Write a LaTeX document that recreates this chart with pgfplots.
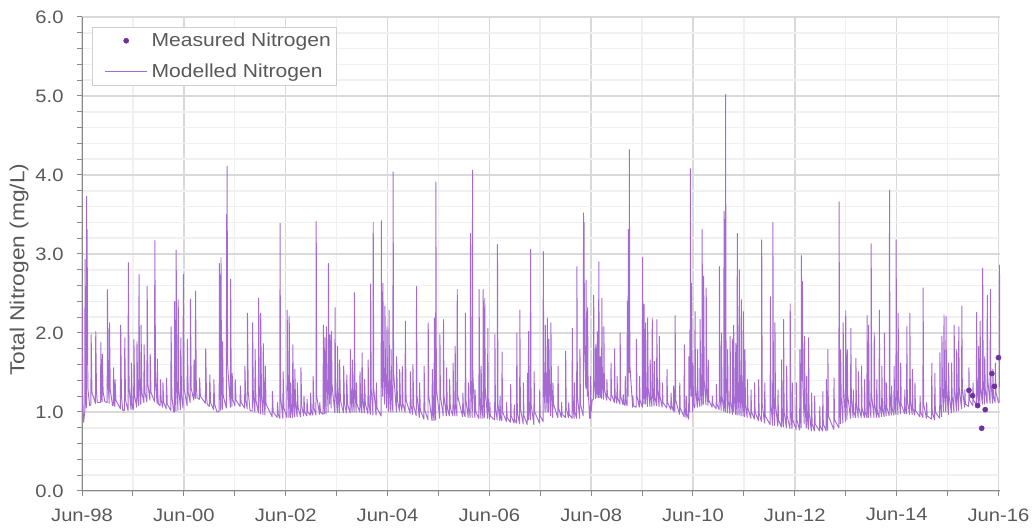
\documentclass[border=0pt]{standalone}
\usepackage{fontspec}
\setmainfont{Liberation Sans}[FakeStretch=1.12]
\usepackage{pgfplots}
\pgfplotsset{compat=1.18}
\definecolor{modl}{HTML}{A66BD3}
\definecolor{meas}{HTML}{7030A0}
\definecolor{majgrid}{HTML}{D9D9D9}
\definecolor{mingrid}{HTML}{F0F0F0}
\definecolor{axgray}{HTML}{898989}
\definecolor{txtgray}{HTML}{595959}
\definecolor{leggray}{HTML}{D0D0D0}
\begin{document}
\begin{tikzpicture}
\useasboundingbox (0,0) rectangle (1036pt,532pt);
\begin{axis}[
  at={(82pt,41pt)}, anchor=south west,
  scale only axis, width=918pt, height=474pt,
  xmin=0, xmax=18.03, ymin=0, ymax=6,
  axis x line*=bottom, axis y line*=left,
  axis line style={-, draw=axgray, line width=1pt},
  xtick={0,2,...,18},
  xticklabels={Jun-98,Jun-00,Jun-02,Jun-04,Jun-06,Jun-08,Jun-10,Jun-12,Jun-14,Jun-16},
  minor xtick={1,3,...,17},
  ytick={0,1,...,6},
  minor ytick={0.2,0.4,0.6,0.8,1.2,1.4,1.6,1.8,2.2,2.4,2.6,2.8,3.2,3.4,3.6,3.8,4.2,4.4,4.6,4.8,5.2,5.4,5.6,5.8},
  yticklabel style={/pgf/number format/fixed, /pgf/number format/fixed zerofill, /pgf/number format/precision=1},
  /pgf/number format/assume math mode=true,
  tick align=outside, major tick length=5pt, minor tick length=5pt,
  every tick/.style={draw=axgray, line width=1pt},
  grid=both,
  major grid style={draw=majgrid, line width=1.5pt},
  minor grid style={draw=mingrid, line width=1.5pt},
  tick label style={font=\fontsize{18}{20}\selectfont, text=txtgray},
  xticklabel style={yshift=-9pt},
  yticklabel style={xshift=-10pt},
  ylabel={Total Nitrogen (mg/L)},
  every axis y label/.style={at={(axis description cs:-0.0686,0.467)}, rotate=90, anchor=center,
    font=\fontsize{20.3}{22}\selectfont, text=txtgray},
  reverse legend,
  legend cell align=left,
  legend style={at={(axis description cs:0,1)}, anchor=north west, xshift=10pt, yshift=-10pt,
    draw=leggray, fill=white, font=\fontsize{18.8}{21}\selectfont, text=txtgray,
    inner xsep=5pt, inner ysep=6pt, row sep=16pt,
    nodes={inner xsep=0pt, inner ysep=0pt},
    /tikz/every odd column/.append style={column sep=4pt}},
]
\addplot[color=modl, line width=0.95pt, line join=round,
  legend image code/.code={\path[draw=none,fill=none] (0pt,0pt) rectangle (50pt,0pt); \draw[draw=modl, line width=1pt] (8pt,0pt) -- (50pt,0pt);}]
coordinates {
(0.000,1.00)(0.005,2.32)(0.015,1.2)(0.03,0.87)
(0.055,1.0)(0.06,2.93)(0.07,1.3)(0.085,1.05)(0.09,3.73)(0.097,1.6)(0.1,3.31)(0.115,1.3)
(0.15,1.08)(0.174,1.09)(0.18,1.98)(0.195,1.25)(0.264,1.11)(0.27,2.02)(0.285,1.25)(0.30,1.12)
(0.364,1.12)(0.37,1.88)(0.38,1.3)(0.394,1.13)(0.40,1.73)(0.415,1.25)(0.45,1.13)
(0.494,1.12)(0.5,2.55)(0.515,1.35)(0.534,1.11)(0.54,2.13)(0.555,1.28)(0.60,1.08)
(0.614,1.08)(0.62,1.56)(0.628,1.2)(0.644,1.07)(0.65,1.41)(0.665,1.15)(0.754,1.04)(0.76,2.10)(0.775,1.2)(0.80,1.02)
(0.834,1.02)(0.84,1.94)(0.855,1.15)(0.904,1.02)(0.91,2.89)(0.925,1.3)(0.964,1.03)(0.97,1.62)(0.985,1.12)(1.00,1.03)
(1.014,1.04)(1.02,1.92)(1.035,1.2)(1.074,1.06)(1.08,1.89)(1.095,1.2)(1.114,1.08)(1.12,2.74)(1.13,1.4)(1.15,1.10)
(1.155,1.10)(1.16,2.10)(1.175,1.25)(1.214,1.12)(1.22,1.85)(1.235,1.25)(1.274,1.13)(1.28,2.59)(1.295,1.35)
(1.334,1.15)(1.34,1.73)(1.355,1.25)(1.424,1.13)(1.43,3.17)(1.445,1.4)(1.474,1.11)(1.48,1.67)(1.49,1.2)(1.50,1.10)
(1.534,1.08)(1.54,1.41)(1.555,1.15)(1.584,1.06)(1.59,1.37)(1.605,1.12)(1.654,1.04)(1.66,1.43)(1.675,1.1)
(1.744,1.02)(1.75,2.08)(1.765,1.2)(1.80,1.00)(1.814,1.00)(1.82,2.40)(1.83,1.3)(1.845,1.01)(1.85,3.05)(1.86,1.4)
(1.885,1.02)(1.89,2.42)(1.90,1.3)(1.934,1.03)(1.94,1.94)(1.955,1.2)(1.984,1.05)(1.99,2.74)(2.005,1.3)
(2.064,1.08)(2.07,1.92)(2.085,1.25)(2.124,1.12)(2.13,2.43)(2.145,1.3)(2.194,1.15)(2.20,1.66)(2.21,1.25)
(2.225,1.17)(2.23,2.53)(2.245,1.35)(2.26,1.18)(2.304,1.16)(2.31,1.43)(2.325,1.2)(2.424,1.11)(2.43,1.80)(2.445,1.2)(2.46,1.10)
(2.504,1.07)(2.51,1.47)(2.525,1.12)(2.584,1.03)(2.59,1.41)(2.605,1.1)(2.65,1.00)
(2.694,1.01)(2.70,2.88)(2.71,1.4)(2.725,1.02)(2.73,2.95)(2.74,1.5)(2.755,1.03)(2.76,1.89)(2.775,1.2)
(2.835,1.05)(2.84,3.50)(2.845,1.8)(2.85,4.11)(2.86,1.6)(2.915,1.06)(2.92,2.68)(2.93,1.4)(2.945,1.07)(2.95,1.49)(2.965,1.15)
(3.004,1.08)(3.01,1.41)(3.025,1.15)(3.104,1.07)(3.11,1.33)(3.125,1.12)(3.194,1.05)(3.20,1.58)(3.215,1.15)
(3.245,1.04)(3.25,2.25)(3.265,1.25)(3.30,1.02)(3.344,1.01)(3.35,2.13)(3.365,1.2)(3.394,1.00)(3.40,1.79)(3.415,1.15)
(3.464,0.99)(3.47,2.44)(3.48,1.35)(3.505,0.98)(3.51,2.25)(3.525,1.2)(3.554,0.97)(3.56,1.87)(3.575,1.15)
(3.594,0.96)(3.60,1.58)(3.615,1.1)(3.734,0.94)(3.74,1.26)(3.755,1.0)(3.834,0.93)(3.84,1.12)(3.855,0.97)
(3.885,0.92)(3.89,3.39)(3.90,1.2)(3.944,0.92)(3.95,1.51)(3.965,1.05)(4.024,0.93)(4.03,2.29)(4.04,1.5)
(4.065,0.93)(4.07,2.21)(4.08,1.3)(4.095,0.93)(4.10,1.37)(4.11,1.1)(4.135,0.93)(4.14,1.85)(4.155,1.15)
(4.175,0.94)(4.18,1.54)(4.195,1.1)(4.225,0.94)(4.23,1.37)(4.245,1.05)(4.295,0.94)(4.30,1.56)(4.315,1.08)
(4.355,0.95)(4.36,1.20)(4.375,1.0)(4.415,0.95)(4.42,1.16)(4.435,1.0)(4.485,0.96)(4.49,1.24)(4.505,1.0)
(4.535,0.96)(4.54,1.45)(4.555,1.05)(4.595,0.96)(4.60,3.41)(4.61,1.2)(4.665,0.97)(4.67,1.12)(4.685,1.0)
(4.735,0.97)(4.74,2.10)(4.75,1.3)(4.765,0.98)(4.77,1.94)(4.78,1.4)(4.795,0.98)(4.80,2.08)(4.81,1.45)
(4.835,1.0)(4.84,2.88)(4.85,1.5)(4.865,1.1)(4.87,1.98)(4.88,1.4)(4.895,1.05)(4.90,2.02)(4.91,1.35)
(4.965,0.99)(4.97,2.32)(4.98,1.3)(5.015,0.99)(5.02,1.83)(5.03,1.2)(5.055,0.99)(5.06,1.66)(5.075,1.15)
(5.135,0.99)(5.14,1.58)(5.155,1.1)(5.195,0.99)(5.20,1.47)(5.215,1.1)(5.265,0.99)(5.27,1.79)(5.28,1.2)
(5.305,1.0)(5.31,1.66)(5.32,1.2)(5.345,1.0)(5.35,2.51)(5.36,1.3)(5.385,1.0)(5.39,1.37)(5.40,1.1)
(5.455,1.0)(5.46,1.51)(5.475,1.1)(5.495,0.99)(5.50,1.75)(5.515,1.15)(5.545,0.99)(5.55,1.41)(5.565,1.1)
(5.615,0.98)(5.62,1.66)(5.635,1.1)(5.665,0.97)(5.67,2.62)(5.68,1.3)(5.715,0.96)(5.72,3.40)(5.73,1.3)
(5.775,0.96)(5.78,1.37)(5.795,1.05)(5.875,0.95)(5.88,3.42)(5.885,1.8)(5.905,1.2)(5.91,2.63)(5.92,1.6)
(5.945,1.1)(5.95,2.34)(5.96,1.5)(5.985,1.05)(5.99,2.08)(6.00,1.4)(6.025,1.0)(6.03,2.29)(6.04,1.4)
(6.065,1.0)(6.07,1.79)(6.08,1.3)(6.105,1.0)(6.11,4.04)(6.12,1.5)(6.175,1.0)(6.18,1.70)(6.195,1.15)
(6.235,1.01)(6.24,1.54)(6.255,1.1)(6.285,1.01)(6.29,1.58)(6.305,1.1)(6.345,1.0)(6.35,2.15)(6.365,1.15)
(6.445,0.98)(6.45,1.51)(6.465,1.08)(6.495,0.97)(6.50,1.60)(6.515,1.08)(6.565,0.95)(6.57,2.59)(6.58,1.2)
(6.625,0.93)(6.63,1.37)(6.645,1.02)(6.715,0.91)(6.72,1.58)(6.735,1.02)(6.795,0.90)(6.80,2.13)(6.81,1.2)
(6.875,0.89)(6.88,1.54)(6.895,1.0)(6.915,0.89)(6.92,2.19)(6.93,1.3)(6.945,0.9)(6.95,3.91)(6.96,1.3)
(7.025,0.92)(7.03,1.98)(7.04,1.2)(7.095,0.95)(7.10,2.17)(7.11,1.2)(7.155,0.95)(7.16,1.56)(7.175,1.05)
(7.215,0.95)(7.22,1.41)(7.235,1.05)(7.285,0.95)(7.29,1.62)(7.30,1.1)(7.325,0.95)(7.33,1.83)(7.34,1.1)
(7.365,0.95)(7.37,2.55)(7.38,1.2)(7.475,0.94)(7.48,1.24)(7.495,1.0)(7.525,0.94)(7.53,2.25)(7.54,1.15)
(7.585,0.93)(7.59,1.37)(7.60,1.05)(7.625,0.93)(7.63,3.26)(7.64,1.4)(7.665,0.93)(7.67,4.06)(7.675,1.5)
(7.715,0.93)(7.72,1.28)(7.735,1.0)(7.795,0.92)(7.80,2.55)(7.81,1.2)(7.835,0.92)(7.84,1.58)(7.85,1.1)
(7.875,0.92)(7.88,2.55)(7.89,1.3)(7.905,0.93)(7.91,2.44)(7.92,1.3)(7.965,0.92)(7.97,2.06)(7.98,1.1)
(8.005,0.91)(8.01,1.12)(8.02,0.95)(8.105,0.90)(8.11,1.98)(8.12,1.05)(8.155,0.90)(8.16,3.12)(8.17,1.1)
(8.205,0.89)(8.21,1.20)(8.22,0.95)(8.245,0.89)(8.25,1.76)(8.26,1.0)(8.335,0.88)(8.34,1.12)(8.35,0.93)
(8.415,0.87)(8.42,1.35)(8.43,0.95)(8.485,0.86)(8.49,1.09)(8.50,0.9)(8.535,0.86)(8.54,2.00)(8.55,1.0)
(8.595,0.85)(8.60,2.29)(8.61,1.05)(8.665,0.85)(8.67,1.37)(8.68,0.95)(8.745,0.84)(8.75,1.49)(8.76,1.0)
(8.765,0.9)(8.77,2.02)(8.78,1.1)(8.805,0.9)(8.81,3.06)(8.82,1.1)(8.875,0.84)(8.88,1.51)(8.89,1.0)
(8.985,0.86)(8.99,1.28)(9.00,0.95)(9.055,0.88)(9.06,3.03)(9.07,1.4)(9.095,1.0)(9.10,2.10)(9.11,1.4)
(9.135,1.0)(9.14,2.19)(9.15,1.5)(9.165,1.0)(9.17,1.92)(9.18,1.4)(9.205,0.95)(9.21,2.13)(9.22,1.3)
(9.245,0.93)(9.25,1.37)(9.26,1.1)(9.345,0.93)(9.35,1.58)(9.36,1.05)(9.415,0.93)(9.42,1.12)(9.43,0.97)
(9.495,0.93)(9.50,1.77)(9.51,1.05)(9.555,0.93)(9.56,1.12)(9.57,0.97)(9.625,0.92)(9.63,2.06)(9.64,1.1)
(9.665,0.92)(9.67,1.37)(9.68,1.0)(9.715,0.92)(9.72,2.84)(9.73,1.2)(9.775,0.92)(9.78,1.79)(9.79,1.1)
(9.845,0.95)(9.85,3.52)(9.855,2.0)(9.86,3.40)(9.87,1.8)(9.895,1.3)(9.90,2.67)(9.91,1.7)(9.925,1.2)(9.93,2.32)(9.94,1.3)
(9.97,0.92)(9.985,0.92)(9.99,1.45)(10.00,1.0)(10.02,1.15)
(10.045,1.16)(10.05,2.48)(10.06,1.4)(10.085,1.17)(10.09,1.85)(10.10,1.3)(10.115,1.18)(10.12,2.02)(10.13,1.4)
(10.145,1.18)(10.15,2.90)(10.16,1.5)(10.175,1.18)(10.18,1.70)(10.19,1.3)(10.205,1.17)(10.21,2.44)(10.22,1.4)
(10.245,1.16)(10.25,2.08)(10.26,1.3)(10.305,1.15)(10.31,1.41)(10.32,1.2)(10.385,1.14)(10.39,1.62)(10.40,1.22)
(10.455,1.12)(10.46,1.80)(10.47,1.22)(10.505,1.11)(10.51,1.45)(10.52,1.18)(10.565,1.10)(10.57,2.00)(10.58,1.2)
(10.625,1.09)(10.63,1.22)(10.64,1.12)(10.665,1.08)(10.67,1.45)(10.68,1.15)(10.705,1.08)(10.71,2.40)(10.715,1.5)
(10.725,1.2)(10.73,3.31)(10.735,1.8)(10.745,1.5)(10.75,4.32)(10.76,1.6)(10.815,1.06)(10.82,1.20)(10.83,1.08)
(10.885,1.06)(10.89,1.92)(10.90,1.2)(10.945,1.06)(10.95,1.45)(10.96,1.15)
(11.005,1.06)(11.01,2.96)(11.02,1.5)(11.035,1.1)(11.04,2.36)(11.05,1.4)(11.065,1.1)(11.07,2.13)(11.08,1.3)
(11.105,1.07)(11.11,2.19)(11.12,1.3)(11.155,1.07)(11.16,1.66)(11.17,1.2)(11.195,1.07)(11.20,2.19)(11.21,1.3)
(11.235,1.08)(11.24,1.64)(11.25,1.2)(11.285,1.08)(11.29,2.17)(11.30,1.3)(11.335,1.07)(11.34,1.96)(11.35,1.2)
(11.395,1.06)(11.40,1.37)(11.41,1.12)(11.485,1.05)(11.49,1.54)(11.50,1.12)(11.565,1.03)(11.57,1.24)(11.58,1.08)
(11.615,1.01)(11.62,1.33)(11.63,1.08)(11.645,1.0)(11.65,2.22)(11.66,1.15)(11.735,0.97)(11.74,1.37)(11.75,1.05)
(11.825,0.94)(11.83,1.85)(11.84,1.05)(11.865,0.93)(11.87,1.20)(11.88,0.98)(11.915,0.91)(11.92,1.70)(11.925,1.2)
(11.935,1.0)(11.94,2.04)(11.945,1.3)(11.95,4.08)(11.955,2.0)(11.965,1.2)(11.97,2.63)(11.98,1.3)
(11.995,1.0)(12.00,1.62)(12.01,1.1)(12.035,1.05)(12.04,2.27)(12.05,1.3)(12.085,1.06)(12.09,1.79)(12.10,1.2)
(12.135,1.07)(12.14,2.17)(12.15,1.3)(12.175,1.08)(12.18,3.31)(12.19,1.5)(12.205,1.1)(12.21,2.72)(12.22,1.4)
(12.255,1.09)(12.26,2.57)(12.27,1.3)(12.295,1.08)(12.30,1.66)(12.31,1.15)(12.375,1.06)(12.38,1.20)(12.39,1.1)
(12.455,1.04)(12.46,1.35)(12.47,1.1)(12.515,1.03)(12.52,2.84)(12.53,1.2)(12.555,1.02)(12.56,2.00)(12.57,1.2)
(12.605,1.01)(12.61,3.54)(12.62,1.4)(12.635,1.0)(12.64,5.02)(12.65,1.5)(12.675,0.99)(12.68,1.79)(12.69,1.15)
(12.725,0.98)(12.73,1.96)(12.74,1.15)(12.775,0.97)(12.78,1.92)(12.785,1.2)(12.795,1.0)(12.80,2.10)(12.81,1.2)
(12.835,0.97)(12.84,1.87)(12.85,1.15)(12.865,0.96)(12.87,3.26)(12.88,1.3)(12.905,0.96)(12.91,2.80)(12.92,1.3)
(12.945,0.95)(12.95,2.42)(12.96,1.25)(12.985,0.95)(12.99,2.27)(13.00,1.2)(13.015,0.94)(13.02,1.79)(13.03,1.1)
(13.065,0.93)(13.07,1.41)(13.08,1.05)(13.135,0.92)(13.14,1.28)(13.15,1.0)(13.205,0.91)(13.21,1.37)(13.22,1.0)
(13.285,0.89)(13.29,1.41)(13.30,0.98)(13.345,0.88)(13.35,3.18)(13.36,1.1)(13.405,0.86)(13.41,1.37)(13.42,0.95)
(13.515,0.84)(13.52,2.46)(13.53,1.1)(13.565,0.83)(13.57,3.40)(13.58,1.2)(13.605,0.83)(13.61,2.13)(13.62,1.1)
(13.665,0.82)(13.67,1.28)(13.68,0.9)(13.735,0.81)(13.74,1.66)(13.75,0.95)(13.775,0.81)(13.78,2.17)(13.79,1.0)
(13.835,0.80)(13.84,1.58)(13.85,0.95)(13.905,0.79)(13.91,2.37)(13.92,1.0)(13.945,0.79)(13.95,1.37)(13.96,0.9)
(14.025,0.78)(14.03,1.37)(14.04,0.9)(14.095,0.77)(14.10,1.79)(14.11,1.0)(14.125,0.8)(14.13,2.98)(14.14,1.4)
(14.15,2.65)(14.16,1.3)(14.185,0.85)(14.19,1.96)(14.20,1.1)(14.225,0.8)(14.23,1.45)(14.24,1.0)
(14.265,0.78)(14.27,1.94)(14.28,1.0)(14.325,0.76)(14.33,1.24)(14.34,0.85)(14.385,0.76)(14.39,1.20)(14.40,0.85)
(14.485,0.76)(14.49,1.07)(14.50,0.82)(14.545,0.76)(14.55,1.26)(14.56,0.85)(14.615,0.76)(14.62,1.41)(14.63,0.9)
(14.645,0.77)(14.65,1.79)(14.66,0.95)(14.765,0.78)(14.77,1.43)(14.78,0.9)(14.865,0.8)(14.87,3.66)(14.88,1.2)
(14.895,0.85)(14.90,1.79)(14.91,1.2)(14.945,0.86)(14.95,2.13)(14.96,1.3)(14.995,0.88)(15.00,2.28)(15.01,1.3)
(15.025,0.9)(15.03,1.79)(15.04,1.2)(15.095,0.92)(15.10,2.06)(15.11,1.2)(15.145,0.93)(15.15,1.28)(15.16,1.0)
(15.195,0.93)(15.20,1.68)(15.21,1.1)(15.245,0.93)(15.25,1.51)(15.26,1.05)(15.305,0.93)(15.31,1.58)(15.32,1.05)
(15.365,0.93)(15.37,1.41)(15.38,1.0)(15.415,0.93)(15.42,2.22)(15.43,1.15)(15.445,0.93)(15.45,2.10)(15.46,1.15)
(15.495,0.93)(15.50,3.13)(15.51,1.2)(15.555,0.93)(15.56,2.00)(15.57,1.1)(15.605,0.93)(15.61,1.41)(15.62,1.0)
(15.655,0.93)(15.66,2.29)(15.67,1.1)(15.705,0.94)(15.71,1.58)(15.72,1.05)(15.755,0.94)(15.76,2.00)(15.77,1.1)
(15.795,0.95)(15.80,1.37)(15.81,1.05)(15.855,0.95)(15.86,3.81)(15.87,1.2)(15.895,0.96)(15.90,1.33)(15.91,1.05)
(15.945,0.96)(15.95,1.58)(15.96,1.1)(15.985,0.97)(15.99,3.18)(16.00,1.3)(16.025,0.97)(16.03,2.25)(16.04,1.2)
(16.075,0.98)(16.08,1.62)(16.09,1.1)(16.155,0.98)(16.16,1.28)(16.17,1.05)(16.195,0.98)(16.20,2.08)(16.21,1.15)
(16.255,0.97)(16.26,2.25)(16.27,1.15)(16.305,0.97)(16.31,1.54)(16.32,1.05)(16.355,0.96)(16.36,1.37)(16.37,1.02)
(16.455,0.94)(16.46,1.20)(16.47,1.0)(16.515,0.93)(16.52,2.57)(16.53,1.1)(16.585,0.92)(16.59,1.12)(16.60,0.95)
(16.685,0.91)(16.69,1.62)(16.70,1.0)(16.745,0.90)(16.75,1.49)(16.76,1.0)(16.845,0.92)(16.85,1.75)(16.86,1.1)
(16.885,0.94)(16.89,1.96)(16.90,1.3)(16.925,1.0)(16.93,2.23)(16.94,1.4)(16.965,1.0)(16.97,2.21)(16.98,1.3)
(17.015,0.97)(17.02,1.62)(17.03,1.2)(17.075,0.99)(17.08,1.62)(17.09,1.2)(17.125,1.0)(17.13,2.10)(17.14,1.3)
(17.175,1.01)(17.18,1.79)(17.19,1.25)(17.215,1.02)(17.22,2.08)(17.23,1.3)(17.275,1.04)(17.28,2.34)(17.29,1.3)
(17.335,1.06)(17.34,1.28)(17.35,1.1)(17.415,1.07)(17.42,1.56)(17.43,1.15)(17.495,1.08)(17.50,1.37)(17.51,1.15)
(17.565,1.09)(17.57,2.26)(17.58,1.3)(17.605,1.10)(17.61,1.83)(17.62,1.3)(17.635,1.10)(17.64,2.15)(17.65,1.3)
(17.685,1.10)(17.69,2.82)(17.70,1.4)(17.725,1.10)(17.73,1.70)(17.74,1.3)(17.775,1.11)(17.78,2.48)(17.79,1.4)
(17.835,1.11)(17.84,2.55)(17.85,1.4)(17.885,1.11)(17.89,1.54)(17.90,1.2)(17.935,1.12)(17.94,1.62)(17.95,1.25)
(18.00,1.12)(18.015,1.12)(18.02,2.86)(18.025,1.6)
};
\addlegendentry{Modelled Nitrogen}
\addplot[only marks, mark=*, mark size=2.6pt, color=meas,
  legend image code/.code={\path[draw=none,fill=none] (0pt,0pt) rectangle (50pt,0pt); \fill[meas] (29pt,0pt) circle (2.6pt);}]
coordinates {
(17.42,1.274)(17.49,1.207)(17.59,1.081)(17.67,0.794)(17.74,1.03)(17.87,1.486)(17.92,1.325)(18.0,1.688)
};
\addlegendentry{Measured Nitrogen}
\end{axis}
\end{tikzpicture}
\end{document}
